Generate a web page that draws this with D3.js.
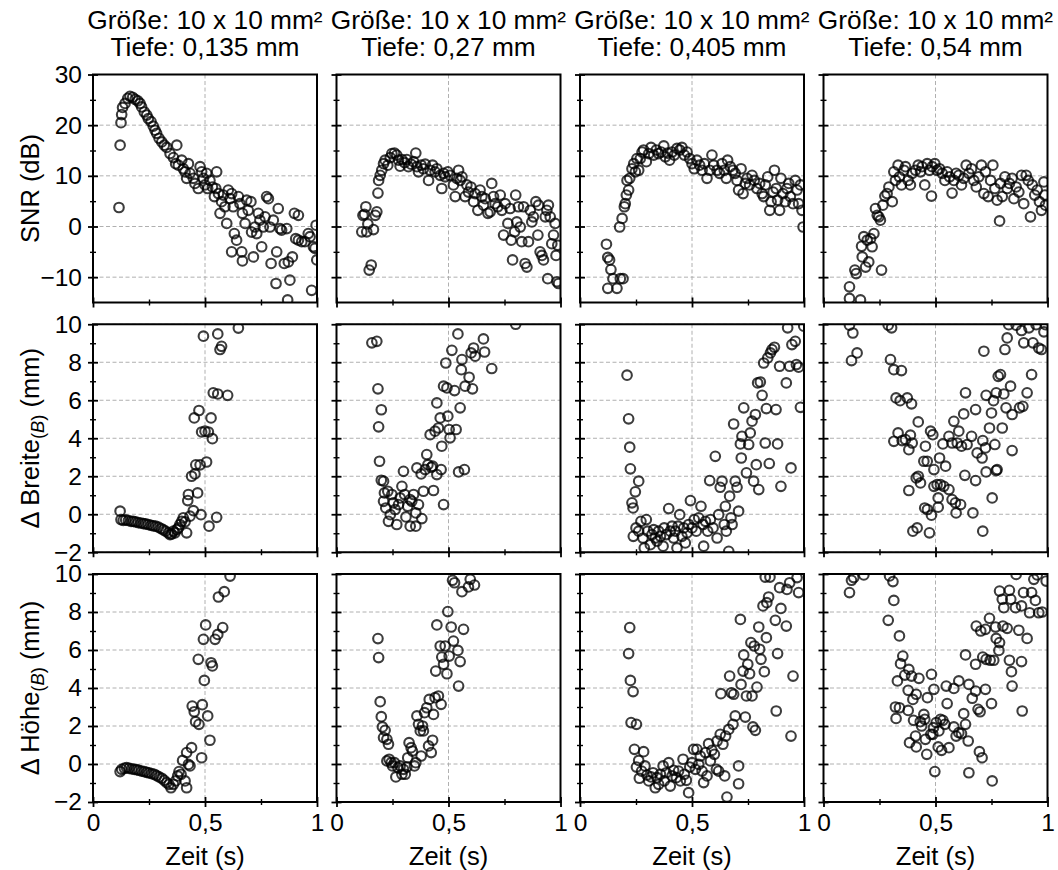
<!DOCTYPE html>
<html><head><meta charset="utf-8">
<script src="https://cdn.jsdelivr.net/npm/d3@7"></script>
<style>body{margin:0;background:#fff}svg{display:block}</style>
</head><body>
<div id="chart"></div>
<script>
// ---------------- DATA ----------------
const titleLine1 = "Größe: 10 x 10 mm²";
const depthLabels = ["Tiefe: 0,135 mm", "Tiefe: 0,27 mm", "Tiefe: 0,405 mm", "Tiefe: 0,54 mm"];
const xTicks = [0, 0.5, 1];
const xTickLabels = ["0", "0,5", "1"];
const xMinor = [0.25, 0.75];
const snrTicks = [-10, 0, 10, 20, 30];
const snrMinor = [-5, 5, 15, 25];
const deltaTicks = [-2, 0, 2, 4, 6, 8, 10];
const deltaMinor = [-1, 1, 3, 5, 7, 9];
const xLabel = "Zeit (s)";

// SNR (dB) vs Zeit (s)
const snr_0135 = [[0.116,3.75],[0.121,16.05],[0.125,20.5],[0.128,22.1],[0.132,23.5],[0.143,24.3],[0.155,25.3],[0.165,25.7],[0.177,25.5],[0.188,25.1],[0.2,24.8],[0.21,24.3],[0.217,23.6],[0.229,22.6],[0.24,22.0],[0.247,21.3],[0.259,20.7],[0.269,19.8],[0.277,19.0],[0.284,18.4],[0.295,17.4],[0.307,16.7],[0.318,16.05],[0.329,15.6],[0.344,14.4],[0.359,13.6],[0.374,16.05],[0.369,12.4],[0.381,12.1],[0.396,13.1],[0.403,11.4],[0.411,10.8],[0.418,9.5],[0.426,12.4],[0.433,10.5],[0.448,9.5],[0.455,8.5],[0.47,7.5],[0.478,11.8],[0.485,10.8],[0.493,9.5],[0.5,8.2],[0.507,10.5],[0.512,7.5],[0.522,9.1],[0.533,7.8],[0.542,5.9],[0.552,10.8],[0.548,7.5],[0.56,6.5],[0.567,2.6],[0.574,4.9],[0.582,6.2],[0.589,3.9],[0.597,0.6],[0.604,7.2],[0.612,5.5],[0.619,6.5],[0.626,3.9],[0.631,-1.4],[0.641,-2.7],[0.649,5.9],[0.656,4.5],[0.619,-5.0],[0.664,-5.0],[0.667,-6.8],[0.667,2.6],[0.679,0.6],[0.686,5.2],[0.693,3.2],[0.705,4.9],[0.708,-1.1],[0.716,-6.0],[0.723,-0.1],[0.731,-1.4],[0.738,2.6],[0.745,1.25],[0.753,-4.0],[0.76,-0.1],[0.768,1.9],[0.775,5.9],[0.783,5.5],[0.79,-0.1],[0.795,-7.3],[0.805,1.25],[0.817,-11.25],[0.82,-5.0],[0.827,3.55],[0.835,-0.4],[0.842,-0.7],[0.854,-7.3],[0.865,-0.4],[0.869,-14.5],[0.872,-7.0],[0.879,-10.6],[0.89,-6.0],[0.899,2.6],[0.905,-2.4],[0.917,2.2],[0.917,-2.7],[0.932,-3.0],[0.946,-3.0],[0.961,-1.4],[0.969,-2.0],[0.976,-12.6],[0.984,-4.0],[0.991,-4.3],[0.996,0.25],[0.999,-6.6]];
const snr_027 = [[0.113,-1.05],[0.118,2.2],[0.125,2.4],[0.131,3.9],[0.135,-1.05],[0.14,0.5],[0.146,-8.6],[0.155,-7.6],[0.165,-0.6],[0.173,2.2],[0.18,2.9],[0.185,6.6],[0.188,9.1],[0.195,10.1],[0.202,11.1],[0.21,12.4],[0.217,13.1],[0.229,12.1],[0.24,13.6],[0.247,14.4],[0.259,14.5],[0.269,14.1],[0.277,13.1],[0.284,11.9],[0.292,13.2],[0.304,12.6],[0.314,13.2],[0.321,11.8],[0.333,12.3],[0.344,12.8],[0.354,14.5],[0.359,11.8],[0.366,10.8],[0.378,12.1],[0.388,11.4],[0.396,12.3],[0.411,9.1],[0.418,11.1],[0.429,12.1],[0.44,10.8],[0.448,11.4],[0.463,10.1],[0.47,7.5],[0.478,10.5],[0.485,9.8],[0.497,10.8],[0.507,10.1],[0.522,8.2],[0.53,5.9],[0.537,9.5],[0.545,11.1],[0.552,9.1],[0.56,9.8],[0.574,5.9],[0.582,8.2],[0.589,6.8],[0.6,7.8],[0.612,4.9],[0.619,6.5],[0.631,3.2],[0.641,7.2],[0.649,5.9],[0.656,4.2],[0.664,5.5],[0.676,2.6],[0.686,2.9],[0.693,8.5],[0.701,5.9],[0.708,4.5],[0.72,3.9],[0.731,6.2],[0.738,3.2],[0.746,-1.7],[0.753,4.5],[0.765,0.6],[0.775,3.55],[0.78,-2.7],[0.786,-6.6],[0.795,-1.05],[0.8,6.2],[0.805,0.9],[0.812,3.9],[0.82,-0.1],[0.827,-3.0],[0.835,3.9],[0.842,-7.3],[0.85,-8.0],[0.857,-3.0],[0.865,3.2],[0.872,0.9],[0.879,1.9],[0.89,4.9],[0.899,-1.7],[0.902,4.2],[0.909,-5.0],[0.917,-5.7],[0.924,-6.6],[0.932,1.9],[0.939,3.2],[0.943,-10.3],[0.946,4.2],[0.954,1.9],[0.961,-3.4],[0.969,-1.7],[0.976,0.6],[0.98,-5.7],[0.984,-10.9],[0.988,-3.7],[0.991,-11.25]];
const snr_0405 = [[0.118,-3.5],[0.124,-12.2],[0.124,-6.1],[0.132,-6.6],[0.138,-8.5],[0.147,-10.3],[0.165,-12.2],[0.18,-10.3],[0.192,-10.3],[0.177,-0.1],[0.188,1.6],[0.198,3.9],[0.207,6.2],[0.202,4.5],[0.21,9.1],[0.217,7.2],[0.222,9.5],[0.232,11.4],[0.24,12.4],[0.247,10.8],[0.254,13.4],[0.262,11.1],[0.269,13.4],[0.277,14.7],[0.284,15.1],[0.296,12.8],[0.307,14.4],[0.317,15.6],[0.329,14.1],[0.341,15.1],[0.351,14.4],[0.362,14.7],[0.374,15.9],[0.381,13.75],[0.391,14.5],[0.4,13.1],[0.411,14.7],[0.421,14.1],[0.433,15.4],[0.445,15.1],[0.455,15.6],[0.466,14.1],[0.478,14.7],[0.49,13.4],[0.5,12.4],[0.51,11.4],[0.522,13.1],[0.534,12.1],[0.545,11.1],[0.555,12.4],[0.567,9.5],[0.579,11.1],[0.589,14.1],[0.597,12.1],[0.612,11.1],[0.623,10.5],[0.634,12.4],[0.644,11.1],[0.653,9.5],[0.659,13.1],[0.671,11.8],[0.683,11.1],[0.693,10.5],[0.701,9.1],[0.708,7.2],[0.719,11.4],[0.728,6.5],[0.738,8.5],[0.746,9.5],[0.757,8.2],[0.768,10.1],[0.778,9.1],[0.79,7.5],[0.802,8.5],[0.813,6.5],[0.82,5.9],[0.827,8.2],[0.838,9.8],[0.847,3.2],[0.853,4.9],[0.862,6.8],[0.868,11.1],[0.876,7.5],[0.882,5.2],[0.891,3.2],[0.897,9.5],[0.906,6.5],[0.917,4.9],[0.924,7.5],[0.932,8.5],[0.939,5.9],[0.951,4.5],[0.961,9.1],[0.969,7.2],[0.976,4.5],[0.984,8.2],[0.991,3.2],[0.996,-0.1]];
const snr_054 = [[0.116,-14.2],[0.116,-11.9],[0.14,-8.6],[0.146,-9.3],[0.165,-14.5],[0.17,-3.9],[0.173,-6.0],[0.18,-2.0],[0.188,-8.0],[0.195,-2.7],[0.202,-7.0],[0.21,-2.4],[0.217,-4.0],[0.225,-1.4],[0.232,3.55],[0.24,2.2],[0.247,1.9],[0.254,1.25],[0.259,-8.6],[0.265,4.2],[0.274,6.0],[0.284,6.5],[0.292,7.8],[0.307,4.9],[0.314,10.8],[0.321,9.1],[0.333,12.1],[0.339,9.8],[0.348,8.2],[0.359,11.1],[0.366,11.8],[0.378,9.1],[0.388,8.2],[0.396,10.5],[0.411,11.1],[0.423,12.1],[0.433,10.8],[0.44,11.8],[0.452,8.2],[0.463,12.4],[0.473,11.1],[0.482,6.0],[0.485,11.8],[0.497,12.4],[0.507,11.1],[0.518,11.4],[0.53,10.5],[0.542,9.1],[0.552,10.8],[0.563,9.8],[0.574,6.6],[0.582,9.1],[0.592,10.5],[0.604,10.1],[0.616,8.2],[0.626,9.5],[0.637,12.1],[0.649,10.5],[0.661,11.4],[0.671,9.1],[0.682,7.8],[0.693,9.8],[0.705,12.1],[0.716,6.5],[0.723,10.8],[0.735,5.9],[0.746,9.1],[0.756,12.1],[0.765,7.5],[0.775,5.2],[0.786,1.1],[0.79,8.5],[0.798,5.9],[0.81,9.8],[0.82,7.5],[0.83,8.5],[0.842,9.5],[0.85,5.5],[0.86,7.8],[0.872,6.8],[0.884,10.1],[0.894,4.5],[0.905,10.1],[0.914,9.1],[0.924,1.9],[0.932,8.2],[0.943,6.2],[0.954,7.2],[0.964,4.9],[0.973,3.2],[0.984,8.8],[0.988,6.2],[0.991,4.2]];

// Δ Breite (mm) vs Zeit (s)
const breite_0135 = [[0.121,0.16],[0.125,-0.28],[0.135,-0.32],[0.146,-0.3],[0.158,-0.33],[0.17,-0.37],[0.18,-0.37],[0.19,-0.4],[0.202,-0.44],[0.214,-0.46],[0.225,-0.49],[0.235,-0.51],[0.247,-0.54],[0.259,-0.58],[0.269,-0.61],[0.28,-0.63],[0.292,-0.68],[0.304,-0.75],[0.314,-0.82],[0.324,-0.89],[0.336,-0.98],[0.344,-1.07],[0.351,-1.04],[0.359,-0.89],[0.366,-0.98],[0.374,-0.81],[0.381,-0.72],[0.388,-0.54],[0.396,-0.37],[0.403,-0.19],[0.411,-0.4],[0.418,-0.98],[0.423,0.72],[0.426,1.04],[0.433,-0.1],[0.44,2.0],[0.448,0.19],[0.452,5.07],[0.455,2.12],[0.459,2.6],[0.467,1.12],[0.473,5.46],[0.478,2.6],[0.482,-0.02],[0.485,4.33],[0.493,9.37],[0.5,4.37],[0.507,2.75],[0.515,4.33],[0.518,-0.63],[0.527,5.07],[0.533,3.98],[0.537,6.39],[0.552,-0.16],[0.557,9.49],[0.557,6.33],[0.567,8.67],[0.574,8.84],[0.601,6.26],[0.649,9.8]];
const breite_027 = [[0.158,9.02],[0.18,9.1],[0.185,6.6],[0.2,5.5],[0.188,4.6],[0.192,2.79],[0.2,1.79],[0.21,1.74],[0.214,1.12],[0.21,0.68],[0.22,0.33],[0.229,1.21],[0.232,-0.37],[0.24,-0.02],[0.247,1.04],[0.254,0.6],[0.262,0.25],[0.269,-0.54],[0.277,0.51],[0.284,0.86],[0.292,1.47],[0.299,2.26],[0.304,1.04],[0.31,-0.14],[0.318,0.42],[0.329,-0.63],[0.329,0.77],[0.336,0.68],[0.344,1.04],[0.354,-0.63],[0.354,0.07],[0.359,2.44],[0.366,0.51],[0.378,2.12],[0.381,-0.23],[0.388,1.21],[0.396,2.35],[0.403,3.14],[0.408,2.61],[0.418,4.19],[0.423,2.47],[0.429,2.53],[0.433,1.25],[0.44,4.37],[0.448,5.86],[0.448,2.09],[0.455,4.54],[0.463,5.07],[0.467,2.35],[0.47,3.58],[0.478,0.51],[0.478,6.74],[0.488,7.96],[0.493,6.65],[0.497,5.16],[0.503,4.46],[0.507,4.02],[0.515,8.63],[0.527,6.51],[0.534,4.46],[0.542,9.49],[0.545,2.23],[0.552,5.6],[0.557,7.61],[0.56,8.14],[0.571,2.35],[0.574,6.74],[0.592,7.21],[0.601,8.49],[0.607,6.6],[0.612,8.75],[0.619,8.32],[0.656,9.23],[0.661,8.54],[0.693,7.67],[0.8,10.0]];
const breite_0405 = [[0.21,7.32],[0.217,5.02],[0.222,3.53],[0.225,2.39],[0.232,0.6],[0.237,0.33],[0.247,1.18],[0.262,1.74],[0.238,-1.16],[0.25,-0.72],[0.262,-0.89],[0.272,-0.37],[0.281,-1.25],[0.287,-1.77],[0.296,-0.28],[0.302,-0.89],[0.314,-1.6],[0.321,-1.07],[0.329,-0.81],[0.336,-1.25],[0.344,-1.42],[0.351,-0.89],[0.359,-1.16],[0.371,-1.68],[0.376,-0.72],[0.385,-1.07],[0.396,0.3],[0.403,-0.89],[0.411,-0.63],[0.418,-1.25],[0.426,-0.89],[0.433,-1.77],[0.438,-0.63],[0.445,-0.02],[0.455,-1.16],[0.463,-0.72],[0.47,-1.51],[0.478,-0.98],[0.485,-0.54],[0.493,0.72],[0.5,-0.72],[0.51,-0.28],[0.519,-0.89],[0.53,-0.19],[0.54,0.42],[0.549,-0.54],[0.552,-1.68],[0.56,-0.37],[0.57,-0.89],[0.579,1.77],[0.582,-0.28],[0.594,-0.72],[0.604,3.05],[0.612,-1.25],[0.619,-0.02],[0.626,1.42],[0.634,1.74],[0.644,-0.54],[0.649,0.42],[0.653,-0.89],[0.664,-1.95],[0.668,0.95],[0.674,-0.19],[0.679,-0.54],[0.686,4.75],[0.693,1.74],[0.701,1.42],[0.708,0.16],[0.716,3.7],[0.72,2.96],[0.723,4.1],[0.731,5.6],[0.743,2.18],[0.753,3.67],[0.76,4.28],[0.768,4.9],[0.775,1.74],[0.783,5.25],[0.787,2.61],[0.793,6.91],[0.798,1.3],[0.805,6.96],[0.813,6.26],[0.82,7.96],[0.827,3.75],[0.832,5.56],[0.838,8.23],[0.845,2.67],[0.85,8.49],[0.857,8.67],[0.868,8.79],[0.875,5.51],[0.882,3.7],[0.891,7.79],[0.897,1.47],[0.921,6.91],[0.927,9.81],[0.936,7.79],[0.946,8.93],[0.942,2.44],[0.961,9.1],[0.966,7.88],[0.976,7.74],[0.984,5.63],[0.999,9.9]];
const breite_054 = [[0.116,9.95],[0.131,9.54],[0.15,8.49],[0.125,8.09],[0.289,9.95],[0.304,9.81],[0.299,8.14],[0.314,7.61],[0.348,7.56],[0.324,6.12],[0.342,5.98],[0.374,6.12],[0.393,5.81],[0.314,3.84],[0.333,4.28],[0.351,3.88],[0.366,3.93],[0.388,4.16],[0.381,3.4],[0.396,3.75],[0.423,4.86],[0.455,3.58],[0.463,2.79],[0.478,4.37],[0.488,4.19],[0.493,2.35],[0.518,2.96],[0.533,3.7],[0.545,2.53],[0.56,4.1],[0.574,3.75],[0.582,4.89],[0.597,3.75],[0.604,4.37],[0.626,5.28],[0.634,6.39],[0.616,3.58],[0.641,3.67],[0.661,4.1],[0.679,5.51],[0.686,3.23],[0.708,2.96],[0.711,3.88],[0.723,3.49],[0.716,8.58],[0.726,6.26],[0.741,4.54],[0.75,5.33],[0.759,5.98],[0.765,3.67],[0.771,6.39],[0.775,2.35],[0.78,7.26],[0.79,7.35],[0.798,4.54],[0.805,6.33],[0.81,8.67],[0.815,5.6],[0.82,9.28],[0.827,9.98],[0.835,6.74],[0.842,5.25],[0.842,3.35],[0.86,9.95],[0.875,5.6],[0.884,9.67],[0.89,5.68],[0.894,9.02],[0.909,6.39],[0.917,9.81],[0.929,7.35],[0.935,9.02],[0.949,9.98],[0.961,8.75],[0.973,8.67],[0.984,9.6],[0.991,9.98],[0.448,2.79],[0.423,2.0],[0.414,1.91],[0.433,1.65],[0.381,1.25],[0.493,1.47],[0.507,1.56],[0.522,1.56],[0.537,1.47],[0.56,1.3],[0.512,0.86],[0.452,0.33],[0.464,0.25],[0.482,-0.05],[0.512,0.37],[0.574,0.77],[0.589,0.6],[0.612,0.51],[0.592,0.07],[0.667,0.07],[0.631,2.05],[0.679,1.77],[0.726,2.23],[0.771,2.3],[0.753,0.86],[0.399,-0.89],[0.418,-0.72],[0.473,-0.98],[0.711,-0.89]];

// Δ Höhe (mm) vs Zeit (s)
const hoehe_0135 = [[0.121,-0.4],[0.128,-0.28],[0.14,-0.23],[0.15,-0.19],[0.161,-0.23],[0.173,-0.26],[0.185,-0.28],[0.195,-0.3],[0.205,-0.33],[0.217,-0.37],[0.229,-0.4],[0.24,-0.44],[0.25,-0.47],[0.262,-0.51],[0.274,-0.54],[0.284,-0.61],[0.295,-0.68],[0.307,-0.75],[0.318,-0.86],[0.329,-0.98],[0.339,-1.07],[0.348,-1.25],[0.359,-1.07],[0.369,-0.89],[0.378,-0.63],[0.384,-0.4],[0.393,-0.54],[0.4,0.19],[0.411,-0.89],[0.418,-1.25],[0.418,0.6],[0.426,-0.02],[0.433,-0.1],[0.44,0.86],[0.443,3.05],[0.452,2.75],[0.458,2.23],[0.47,5.51],[0.473,2.09],[0.485,0.33],[0.488,3.12],[0.493,6.56],[0.497,4.4],[0.503,7.32],[0.512,2.53],[0.522,1.25],[0.527,5.33],[0.533,5.16],[0.545,6.56],[0.557,6.82],[0.56,8.79],[0.579,7.18],[0.586,9.07],[0.612,9.89]];
const hoehe_027 = [[0.185,6.6],[0.188,5.6],[0.195,3.28],[0.2,2.49],[0.205,1.95],[0.21,1.39],[0.217,1.77],[0.225,1.3],[0.232,1.04],[0.225,0.16],[0.235,0.25],[0.244,0.07],[0.25,-0.1],[0.259,0.07],[0.265,-0.68],[0.274,-0.19],[0.284,-0.1],[0.292,-0.54],[0.299,-0.28],[0.307,-0.54],[0.314,-0.16],[0.318,0.33],[0.324,1.12],[0.333,0.86],[0.339,0.68],[0.348,-0.1],[0.354,0.07],[0.359,2.53],[0.366,2.09],[0.374,1.74],[0.378,0.42],[0.384,2.0],[0.388,1.74],[0.393,2.7],[0.403,2.96],[0.411,0.95],[0.414,3.4],[0.423,0.6],[0.429,1.25],[0.433,2.61],[0.44,3.49],[0.443,4.89],[0.448,7.32],[0.455,3.58],[0.463,6.21],[0.467,3.14],[0.47,5.63],[0.478,5.25],[0.485,6.21],[0.493,4.75],[0.497,8.02],[0.503,5.68],[0.512,7.21],[0.518,9.67],[0.522,6.47],[0.527,9.54],[0.542,5.98],[0.545,4.1],[0.552,5.39],[0.56,9.07],[0.567,7.09],[0.589,9.32],[0.597,9.72],[0.616,9.42]];
const hoehe_0405 = [[0.222,7.18],[0.217,5.81],[0.225,4.4],[0.237,3.81],[0.228,2.18],[0.252,2.09],[0.243,0.77],[0.262,0.19],[0.284,0.65],[0.252,-0.16],[0.265,-0.75],[0.275,-0.37],[0.29,-0.1],[0.299,-0.58],[0.307,-0.89],[0.317,-0.68],[0.326,-0.46],[0.336,-1.25],[0.344,-0.72],[0.351,-1.07],[0.359,-0.54],[0.371,-0.1],[0.376,-0.89],[0.385,-0.46],[0.396,0.07],[0.403,-1.16],[0.411,-0.63],[0.418,-0.33],[0.43,-0.72],[0.44,-0.37],[0.448,-0.89],[0.46,0.25],[0.466,-0.54],[0.475,-0.86],[0.485,-1.51],[0.49,-0.16],[0.5,0.07],[0.507,0.77],[0.515,-0.28],[0.522,0.77],[0.53,-0.02],[0.537,0.42],[0.545,-0.37],[0.552,-0.98],[0.56,0.6],[0.567,-0.63],[0.574,1.07],[0.582,0.16],[0.589,0.72],[0.6,0.51],[0.609,-0.28],[0.612,1.21],[0.619,-0.37],[0.626,1.56],[0.629,3.7],[0.638,1.04],[0.646,-0.63],[0.65,1.47],[0.656,-1.74],[0.664,1.82],[0.668,4.63],[0.676,3.75],[0.683,2.09],[0.686,3.67],[0.693,2.53],[0.708,-0.1],[0.708,-1.04],[0.716,7.61],[0.719,4.19],[0.728,4.89],[0.731,5.74],[0.738,2.47],[0.743,3.58],[0.749,5.25],[0.757,4.75],[0.763,6.39],[0.768,3.58],[0.772,1.95],[0.778,6.21],[0.783,1.77],[0.79,4.05],[0.798,7.21],[0.802,6.04],[0.808,5.51],[0.817,8.32],[0.823,4.86],[0.827,9.84],[0.832,6.65],[0.834,8.49],[0.842,8.79],[0.848,9.84],[0.872,7.56],[0.876,2.79],[0.882,5.81],[0.891,9.28],[0.897,8.19],[0.921,7.26],[0.924,9.19],[0.936,9.54],[0.942,1.47],[0.951,4.63],[0.969,9.81],[0.976,9.02]];
const hoehe_054 = [[0.116,9.02],[0.125,9.67],[0.135,9.81],[0.18,9.95],[0.295,9.9],[0.31,9.6],[0.314,8.61],[0.289,7.56],[0.339,6.74],[0.354,5.68],[0.344,5.28],[0.381,4.98],[0.363,4.68],[0.393,4.63],[0.426,4.51],[0.482,4.72],[0.33,4.37],[0.378,3.88],[0.414,3.67],[0.399,3.4],[0.464,3.49],[0.493,3.93],[0.321,3.0],[0.339,2.96],[0.324,2.4],[0.378,2.82],[0.402,2.3],[0.432,2.23],[0.448,2.61],[0.452,2.35],[0.438,2.0],[0.479,1.56],[0.491,1.91],[0.503,2.18],[0.515,1.74],[0.522,2.35],[0.533,2.3],[0.542,2.09],[0.552,3.18],[0.548,4.1],[0.582,3.98],[0.604,4.37],[0.626,2.65],[0.634,2.09],[0.649,4.19],[0.664,3.46],[0.679,3.84],[0.69,2.88],[0.699,2.75],[0.723,3.93],[0.75,3.18],[0.384,1.12],[0.411,1.47],[0.414,0.9],[0.455,1.3],[0.461,0.51],[0.488,1.56],[0.512,0.9],[0.527,0.72],[0.56,0.86],[0.582,1.95],[0.592,1.47],[0.604,1.65],[0.616,1.6],[0.646,1.21],[0.634,5.74],[0.679,5.25],[0.696,0.65],[0.708,0.33],[0.497,-0.4],[0.649,-0.46],[0.753,-0.89],[0.682,7.26],[0.702,7.0],[0.723,7.09],[0.741,7.67],[0.768,7.21],[0.783,5.98],[0.711,5.63],[0.726,5.51],[0.744,5.46],[0.76,5.46],[0.771,6.61],[0.786,6.39],[0.801,7.26],[0.82,7.14],[0.83,5.46],[0.839,4.86],[0.842,4.1],[0.872,7.04],[0.884,5.39],[0.887,2.79],[0.909,6.61],[0.786,9.1],[0.798,8.67],[0.805,8.23],[0.83,9.14],[0.836,8.67],[0.857,8.23],[0.86,9.98],[0.884,8.32],[0.893,9.02],[0.92,7.96],[0.929,9.02],[0.939,9.72],[0.946,8.61],[0.954,9.95],[0.961,7.96],[0.976,8.0],[0.994,9.63]];

// ---------------- LAYOUT ----------------
const W = 1058, H = 870;
const marginL = 93, marginT = 74.5, pw = 224, ph = 228, gapX = 19.5, gapY = 21.75;
const FONT = "'Liberation Sans', Arial, Helvetica, sans-serif";
const fsTick = 24.5, fsLabel = 25.5, fsTitle = 26.3;

const rows = [
  {data: [snr_0135, snr_027, snr_0405, snr_054], domain: [-15, 30], ticks: snrTicks, minor: snrMinor, label: "snr"},
  {data: [breite_0135, breite_027, breite_0405, breite_054], domain: [-2, 10], ticks: deltaTicks, minor: deltaMinor, label: "breite"},
  {data: [hoehe_0135, hoehe_027, hoehe_0405, hoehe_054], domain: [-2, 10], ticks: deltaTicks, minor: deltaMinor, label: "hoehe"}
];

const svg = d3.select("#chart").append("svg").attr("width", W).attr("height", H)
  .style("font-family", FONT);

const fmtNum = v => (v < 0 ? "\u2212" + Math.abs(v) : String(v));

rows.forEach((row, r) => {
  row.data.forEach((pts, c) => {
    const x0 = marginL + c * (pw + gapX), y0 = marginT + r * (ph + gapY);
    const g = svg.append("g").attr("transform", `translate(${x0},${y0})`);
    const x = d3.scaleLinear().domain([0, 1]).range([0, pw]);
    const y = d3.scaleLinear().domain(row.domain).range([ph, 0]);
    const cid = `clip-${r}-${c}`;
    g.append("clipPath").attr("id", cid).append("rect").attr("width", pw).attr("height", ph);

    // grid
    g.append("g").selectAll("line").data(xTicks).join("line")
      .attr("x1", d => x(d)).attr("x2", d => x(d)).attr("y1", 0).attr("y2", ph)
      .attr("stroke", "#b0b0b0").attr("stroke-width", 1).attr("stroke-dasharray", "4,2.5");
    g.append("g").selectAll("line").data(row.ticks).join("line")
      .attr("x1", 0).attr("x2", pw).attr("y1", d => y(d)).attr("y2", d => y(d))
      .attr("stroke", "#b0b0b0").attr("stroke-width", 1).attr("stroke-dasharray", "4,2.5");

    // points
    g.append("g").attr("clip-path", `url(#${cid})`).selectAll("circle").data(pts).join("circle")
      .attr("cx", d => x(d[0])).attr("cy", d => y(d[1])).attr("r", 4.8)
      .attr("fill", "none").attr("stroke", "rgba(0,0,0,0.76)").attr("stroke-width", 2.1);

    // axes (ticks in-out)
    const yAxis = d3.axisLeft(y).tickValues(row.ticks).tickSize(5).tickPadding(6)
      .tickFormat(c === 0 ? fmtNum : () => "");
    const ya = g.append("g").call(yAxis);
    ya.selectAll(".tick line").attr("x1", 5).attr("stroke-width", 1.8);
    const yMin = d3.axisLeft(y).tickValues(row.minor).tickSize(3).tickFormat(() => "");
    const ym = g.append("g").call(yMin);
    ym.selectAll(".tick line").attr("x1", 3).attr("stroke-width", 1.4);

    const xAxis = d3.axisBottom(x).tickValues(xTicks).tickSize(5).tickPadding(7)
      .tickFormat((d, i) => r === 2 ? xTickLabels[i] : "");
    const xa = g.append("g").attr("transform", `translate(0,${ph})`).call(xAxis);
    xa.selectAll(".tick line").attr("y1", -5).attr("stroke-width", 1.8);
    const xMinAx = d3.axisBottom(x).tickValues(xMinor).tickSize(3).tickFormat(() => "");
    const xm = g.append("g").attr("transform", `translate(0,${ph})`).call(xMinAx);
    xm.selectAll(".tick line").attr("y1", -3).attr("stroke-width", 1.4);

    [ya, ym, xa, xm].forEach(a => { a.select(".domain").remove(); a.selectAll("text").attr("font-size", fsTick).attr("font-family", FONT).attr("fill", "#000"); });

    // frame
    g.append("rect").attr("width", pw).attr("height", ph).attr("fill", "none")
      .attr("stroke", "#000").attr("stroke-width", 2);

    // titles
    if (r === 0) {
      g.append("text").attr("x", pw / 2).attr("y", -46).attr("text-anchor", "middle")
        .attr("font-size", fsTitle).text(titleLine1);
      g.append("text").attr("x", pw / 2).attr("y", -18.5).attr("text-anchor", "middle")
        .attr("font-size", fsTitle).text(depthLabels[c]);
    }
    if (r === 2) {
      g.append("text").attr("x", pw / 2).attr("y", ph + 63).attr("text-anchor", "middle")
        .attr("font-size", fsLabel).text(xLabel);
    }
    if (c === 0) {
      const t = g.append("text").attr("transform", `translate(-54,${ph / 2}) rotate(-90)`)
        .attr("text-anchor", "middle").attr("font-size", fsLabel);
      if (row.label === "snr") {
        t.text("SNR (dB)");
      } else {
        t.append("tspan").text(row.label === "breite" ? "\u0394 Breite" : "\u0394 H\u00f6he");
        t.append("tspan").attr("font-size", fsLabel * 0.72).attr("dy", 5).text("(");
        t.append("tspan").attr("font-size", fsLabel * 0.72).attr("font-style", "italic").text("B");
        t.append("tspan").attr("font-size", fsLabel * 0.72).text(")");
        t.append("tspan").attr("dy", -5).text(" (mm)");
      }
    }
  });
});
</script>
</body></html>
